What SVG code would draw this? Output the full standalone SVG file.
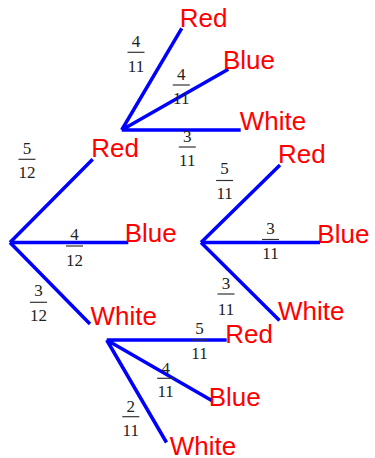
<svg xmlns="http://www.w3.org/2000/svg" width="375" height="458" viewBox="0 0 375 458">
<style>
.edge{stroke:#0000ff;stroke-width:3.5;fill:none;stroke-linecap:butt}
.lbl{font-family:"Liberation Sans",Arial,sans-serif;font-size:26px;fill:#ff0000}
.num{font-family:"Liberation Serif","Times New Roman",serif;font-size:17px;fill:#222;text-anchor:middle}
.bar{stroke:#333;stroke-width:1.2}
</style>
<rect width="375" height="458" fill="#ffffff"/>
<g id="connectors">
<path class="edge" d="M10,242.5 L92.7,159.3 M10,242.5 L128.3,242.5 M10,242.5 L90,324"/>
<path class="edge" d="M121.7,130 L181.7,28.3 M121.7,130 L228.3,69.3 M121.7,130 L240.7,130"/>
<path class="edge" d="M201,242.5 L280,165 M201,242.5 L320,242.5 M201,242.5 L279.5,320.5"/>
<path class="edge" d="M106.7,340 L226.7,340 M106.7,340 L211.7,400.5 M106.7,340 L166.5,442.5"/>
</g>
<g id="edge-labels">
<g id="f1"><text class="num" x="136" y="47">4</text><line class="bar" x1="127.5" y1="52.3" x2="144.5" y2="52.3"/><text class="num" x="136" y="71.5">11</text></g>
<g id="f2"><text class="num" x="181.3" y="79.5">4</text><line class="bar" x1="172.8" y1="85" x2="189.8" y2="85"/><text class="num" x="181.3" y="104">11</text></g>
<g id="f3"><text class="num" x="187.3" y="141.5">3</text><line class="bar" x1="178.8" y1="147" x2="195.8" y2="147"/><text class="num" x="187.3" y="165.5">11</text></g>
<g id="f4"><text class="num" x="27" y="154">5</text><line class="bar" x1="18.5" y1="159.3" x2="35.5" y2="159.3"/><text class="num" x="27" y="178.3">12</text></g>
<g id="f5"><text class="num" x="74.5" y="240">4</text><line class="bar" x1="66" y1="246" x2="83" y2="246"/><text class="num" x="74.5" y="265.5">12</text></g>
<g id="f6"><text class="num" x="38.5" y="296">3</text><line class="bar" x1="30" y1="302.3" x2="47" y2="302.3"/><text class="num" x="38.5" y="320.5">12</text></g>
<g id="f7"><text class="num" x="224.6" y="174">5</text><line class="bar" x1="216.1" y1="180.5" x2="233.1" y2="180.5"/><text class="num" x="224.6" y="198.5">11</text></g>
<g id="f8"><text class="num" x="270.5" y="233.5">3</text><line class="bar" x1="262" y1="239.5" x2="279" y2="239.5"/><text class="num" x="270.5" y="258.5">11</text></g>
<g id="f9"><text class="num" x="226" y="288.5">3</text><line class="bar" x1="217.5" y1="294" x2="234.5" y2="294"/><text class="num" x="226" y="315">11</text></g>
<g id="f10"><text class="num" x="199.5" y="333.5">5</text><line class="bar" x1="191.5" y1="340" x2="207.5" y2="340"/><text class="num" x="199.5" y="358.5">11</text></g>
<g id="f11"><text class="num" x="165.7" y="373.5">4</text><line class="bar" x1="157.2" y1="378.3" x2="174.2" y2="378.3"/><text class="num" x="165.7" y="397">11</text></g>
<g id="f12"><text class="num" x="130.8" y="411.5">2</text><line class="bar" x1="122.3" y1="416.7" x2="139.3" y2="416.7"/><text class="num" x="130.8" y="436">11</text></g>
</g>
<g id="n-red-red"><text class="lbl" x="179.7" y="26.7">Red</text></g>
<g id="n-red-blue"><text class="lbl" x="223" y="69.3">Blue</text></g>
<g id="n-red-white"><text class="lbl" x="239.7" y="130">White</text></g>
<g id="n-red"><text class="lbl" x="91.3" y="156.7">Red</text></g>
<g id="n-blue"><text class="lbl" x="124.7" y="241.7">Blue</text></g>
<g id="n-white"><text class="lbl" x="90.4" y="325">White</text></g>
<g id="n-blue-red"><text class="lbl" x="278" y="163.3">Red</text></g>
<g id="n-blue-blue"><text class="lbl" x="317.3" y="243.3">Blue</text></g>
<g id="n-blue-white"><text class="lbl" x="278" y="320">White</text></g>
<g id="n-white-red"><text class="lbl" x="225.3" y="342.7">Red</text></g>
<g id="n-white-blue"><text class="lbl" x="208.7" y="406">Blue</text></g>
<g id="n-white-white"><text class="lbl" x="169.7" y="455">White</text></g>
</svg>
